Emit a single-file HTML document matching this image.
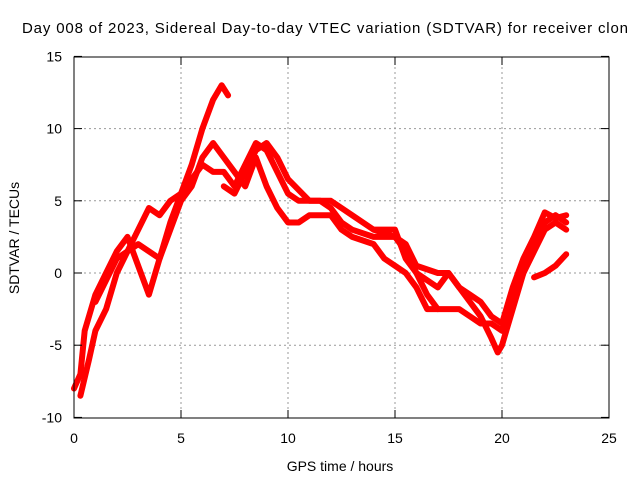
<!DOCTYPE html>
<html><head><meta charset="utf-8"><style>
body{margin:0;background:#fff;width:640px;height:480px;overflow:hidden}
svg{display:block;font-family:"Liberation Sans",sans-serif}
</style></head><body>
<svg id="chart" width="640" height="480">
<text x="22" y="33" font-size="15" textLength="606" lengthAdjust="spacing" fill="#000">Day 008 of 2023, Sidereal Day-to-day VTEC variation (SDTVAR) for receiver clon</text>
<g id="grid"></g>
<g id="series"></g>
<rect x="74" y="57" width="535" height="361" fill="none" stroke="#000"/>
<g id="axes"></g>
<text x="340" y="471" font-size="14" text-anchor="middle">GPS time / hours</text>
<text transform="translate(19,238) rotate(-90)" font-size="14" text-anchor="middle">SDTVAR / TECUs</text>
</svg>
<script>
const xTicks=[0,5,10,15,20,25];
const yTicks=[-10,-5,0,5,10,15];
const traceA=[[0,-8],[0.3,-7],[0.5,-4],[1,-1.5],[1.5,0],[2,1.5],[2.5,2.5],[3,0.5],[3.5,-1.5],[4,1],[4.5,3.5],[5,5.5],[5.5,7.5],[6,10],[6.5,12],[6.9,13],[7.2,12.3]];
const traceB=[[0.3,-8.5],[0.7,-6],[1,-4],[1.5,-2.5],[2,0],[2.5,1.5],[3,3],[3.5,4.5],[4,4],[4.5,5],[5,5.5],[5.5,6.5],[6,7.5],[6.5,7],[7,7],[7.5,6],[8,7.5],[8.5,9],[9,8.5],[9.5,7],[10,5.5],[10.5,5],[11,5],[11.5,5],[12,4.5],[12.5,3.5],[13,3],[14,2.5],[15,2.5],[15.5,1.5],[16,0],[17,-1],[17.5,0],[18,-1],[18.5,-2],[19,-3],[19.5,-4.5],[19.8,-5.5],[20,-5],[20.5,-2.5],[21,0],[21.5,2],[22,3.5],[22.5,4],[23,3.5]];
const traceC=[[1,-2],[2,1],[3,2],[4,1],[4.5,3],[5,5],[5.5,6],[6,8],[6.5,9],[7,8],[7.5,7],[8,6],[8.5,8],[9,6],[9.5,4.5],[10,3.5],[10.5,3.5],[11,4],[12,4],[12.5,3],[13,2.5],[14,2],[14.5,1],[15,0.5],[15.5,0],[16,-1],[16.5,-2.5],[17,-2.5],[18,-2.5],[18.5,-3],[19,-3.5],[19.5,-3.5],[20,-4],[20.5,-2],[21,0],[21.5,1.5],[22,3],[22.5,3.5],[23,3]];
const traceD=[[14,3],[15,2.5],[15.5,2],[16,0.5],[17,0],[17.5,0],[18,-1],[18.5,-1.5],[19,-2],[19.5,-3],[20,-3.5],[20.5,-1],[21,1],[21.5,2.5],[22,4.2],[22.5,3.8],[23,4]];
const traceE=[[21.5,-0.3],[22,0],[22.5,0.5],[23,1.3]];
const traceF=[[7,6],[7.5,5.5],[8,7],[8.5,8.5],[9,9],[9.5,8],[10,6.5],[11,5],[12,5],[13,4],[14,3],[15,3],[15.5,1],[16,0],[16.5,-1.5],[17,-2.5]];
const traces=[traceA,traceB,traceC,traceD,traceE,traceF];
const X=v=>74+v*21.4, Y=v=>273-v*14.44;
const NS="http://www.w3.org/2000/svg";
const grid=document.getElementById('grid'),axes=document.getElementById('axes'),ser=document.getElementById('series');
function mk(t,a,p){const e=document.createElementNS(NS,t);for(const k in a)e.setAttribute(k,a[k]);p.appendChild(e);return e;}
xTicks.forEach(t=>{
 if(t>0&&t<25){const g=mk('line',{x1:X(t),x2:X(t),y1:57,y2:418,stroke:'#999','stroke-dasharray':'2,3'},grid);
 
 }
 const l=mk('text',{x:X(t),y:443,'font-size':14,'text-anchor':'middle'},axes);l.textContent=t;
 
 
 mk('line',{x1:X(t),x2:X(t),y1:418,y2:410,stroke:'#000'},axes);mk('line',{x1:X(t),x2:X(t),y1:57,y2:65,stroke:'#000'},axes);
});
yTicks.forEach(t=>{
 if(t>-10&&t<15){const g=mk('line',{x1:74,x2:609,y1:Y(t),y2:Y(t),stroke:'#999','stroke-dasharray':'2,3'},grid);
 
 }
 const l=mk('text',{x:62,y:Y(t)+5,'font-size':14,'text-anchor':'end'},axes);l.textContent=t;
 
 
 mk('line',{x1:74,x2:82,y1:Y(t),y2:Y(t),stroke:'#000'},axes);mk('line',{x1:609,x2:601,y1:Y(t),y2:Y(t),stroke:'#000'},axes);
});
traces.forEach((tr,i)=>{
 const p=mk('polyline',{points:tr.map(d=>X(d[0])+','+Y(d[1])).join(' '),fill:'none',stroke:'#f00','stroke-width':6,'stroke-linejoin':'round','stroke-linecap':'round'},ser);
 
 
});
</script>
</body></html>
